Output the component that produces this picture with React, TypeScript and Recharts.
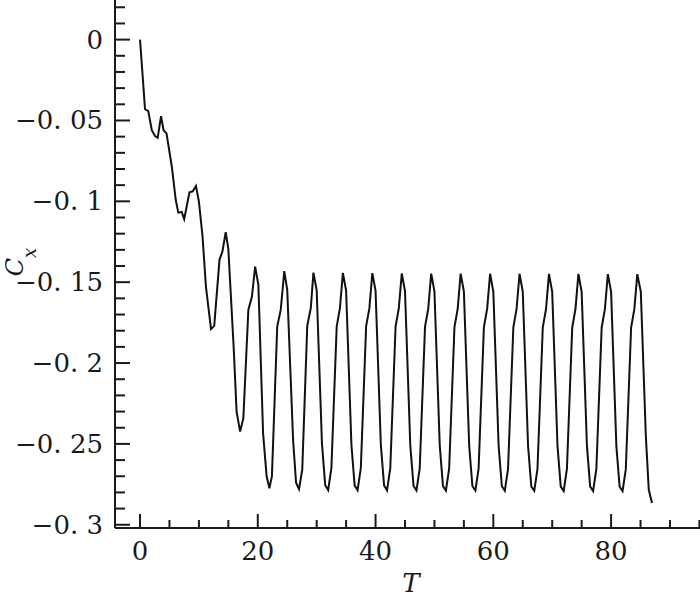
import { Line, LineChart, XAxis, YAxis } from "recharts";

// time T and drag coefficient Cx
const tValues = [
  0, 0.85, 1.4, 2.0, 2.55, 3.0, 3.57, 4.0, 4.5, 5.4, 6.07, 6.5, 7.08, 7.5, 8.4, 8.95, 9.5, 10.0,
  10.6, 11.2, 12.06, 12.6, 13.5, 14.0, 14.55, 15.0, 15.9, 16.4, 17.0, 17.55, 18.4, 19.0,
  19.55, 20.1, 20.9, 21.5, 21.97, 22.4, 23.3, 23.9,
  24.5, 25.0, 26.0, 26.5, 27.0, 27.55, 28.4, 29.0,
  29.45, 30.0, 30.9, 31.45, 31.95, 32.5, 33.4, 33.95,
  34.45, 35.0, 35.9, 36.45, 36.95, 37.5, 38.4, 38.95,
  39.45, 40.0, 40.9, 41.45, 41.95, 42.5, 43.4, 43.95,
  44.45, 45.0, 45.9, 46.45, 46.95, 47.5, 48.4, 48.95,
  49.45, 50.0, 50.9, 51.45, 51.95, 52.5, 53.4, 53.95,
  54.45, 55.0, 55.9, 56.45, 56.95, 57.5, 58.4, 58.95,
  59.45, 60.0, 60.9, 61.45, 61.95, 62.5, 63.4, 63.95,
  64.45, 65.0, 65.9, 66.45, 66.95, 67.5, 68.4, 68.95,
  69.45, 70.0, 70.9, 71.45, 71.95, 72.5, 73.4, 73.95,
  74.45, 75.0, 75.9, 76.45, 76.95, 77.5, 78.4, 78.95,
  79.45, 80.0, 80.9, 81.45, 81.95, 82.5, 83.4, 83.95,
  84.45, 85.05, 85.9, 86.4, 86.95,
];

const cxValues = [
  0, -0.043, -0.0442, -0.056, -0.0596, -0.0607, -0.0473, -0.056, -0.058, -0.0786, -0.0992, -0.107,
  -0.1066, -0.111, -0.0944, -0.0938, -0.0905, -0.1002,
  -0.121, -0.153, -0.179, -0.177, -0.136, -0.131, -0.119, -0.1295, -0.19, -0.23, -0.2424, -0.234,
  -0.167, -0.159,
  -0.1404, -0.1517, -0.2434, -0.27, -0.2774, -0.27, -0.1775, -0.167,
  -0.1431, -0.1548, -0.248, -0.274, -0.278, -0.266, -0.177, -0.166,
  -0.1441, -0.155, -0.25, -0.2755, -0.2785, -0.265, -0.1775, -0.166,
  -0.1443, -0.1552, -0.2505, -0.2758, -0.2786, -0.2648, -0.1772, -0.1662,
  -0.1444, -0.1553, -0.2508, -0.2757, -0.2787, -0.265, -0.1774, -0.166,
  -0.1446, -0.1555, -0.251, -0.276, -0.2788, -0.2652, -0.1776, -0.1663,
  -0.1447, -0.1556, -0.2509, -0.2761, -0.2789, -0.2651, -0.1777, -0.1664,
  -0.1447, -0.1557, -0.2511, -0.2762, -0.2789, -0.2653, -0.1778, -0.1665,
  -0.1448, -0.1558, -0.2512, -0.2762, -0.279, -0.2654, -0.1779, -0.1665,
  -0.1448, -0.1558, -0.2513, -0.2763, -0.279, -0.2654, -0.1779, -0.1666,
  -0.1449, -0.1559, -0.2514, -0.2764, -0.2791, -0.2655, -0.178, -0.1666,
  -0.1449, -0.1559, -0.2514, -0.2764, -0.2791, -0.2655, -0.178, -0.1667,
  -0.145, -0.156, -0.2515, -0.2765, -0.2792, -0.2656, -0.1781, -0.1667,
  -0.145, -0.156, -0.245, -0.2784, -0.2865,
];

const xTicks = [0, 5, 10, 15, 20, 25, 30, 35, 40, 45, 50, 55, 60, 65, 70, 75, 80, 85, 90, 95];
const xMajor = [0, 20, 40, 60, 80];

const yMajor = [0, -0.05, -0.1, -0.15, -0.2, -0.25, -0.3];
const yMajorLabels = ["0", "\u22120. 05", "\u22120. 1", "\u22120. 15", "\u22120. 2", "\u22120. 25", "\u22120. 3"];
const yTicks = [
  0.02, 0.01, 0, -0.01, -0.02, -0.03, -0.04, -0.05, -0.06, -0.07, -0.08, -0.09, -0.1, -0.11, -0.12,
  -0.13, -0.14, -0.15, -0.16, -0.17, -0.18, -0.19, -0.2, -0.21, -0.22, -0.23, -0.24, -0.25, -0.26,
  -0.27, -0.28, -0.29, -0.3,
];

const data = tValues.map((t, i) => ({ t, cx: cxValues[i] }));

const INK = "#1a1a1a";
const serif = { fontFamily: "'DejaVu Serif', 'Liberation Serif', serif" };

function YTick({ x, y, payload }: any) {
  const idx = yMajor.findIndex((m) => Math.abs(m - payload.value) < 1e-6);
  const major = idx >= 0;
  return (
    <g>
      <line x1={x} y1={y} x2={x + (major ? 15 : 10)} y2={y} stroke={INK} strokeWidth={2} />
      {major && (
        <text x={x - 12} y={y + 9} textAnchor="end" fontSize={26} style={serif} fill={INK}>
          {yMajorLabels[idx]}
        </text>
      )}
    </g>
  );
}

function XTick({ x, y, payload }: any) {
  const major = xMajor.includes(payload.value);
  return (
    <g>
      <line x1={x} y1={y} x2={x} y2={y - (major ? 14 : 8)} stroke={INK} strokeWidth={2} />
      {major && (
        <text x={x} y={y + 32} textAnchor="middle" fontSize={26} style={serif} fill={INK}>
          {payload.value}
        </text>
      )}
    </g>
  );
}

export default function App() {
  return (
    <div style={{ position: "absolute", left: 0, top: 0, width: 700, height: 609, background: "#fff" }}>
      <LineChart width={700} height={609} data={data} margin={{ top: 0, right: 0, bottom: 0, left: 0 }}>
        <XAxis
          dataKey="t"
          type="number"
          domain={[-4.25, 95.1]}
          allowDataOverflow
          ticks={xTicks}
          interval={0}
          height={81}
          tickSize={0}
          tickMargin={0}
          tickLine={false}
          axisLine={{ stroke: INK, strokeWidth: 2 }}
          tick={(p: any) => <XTick {...p} />}
        />
        <YAxis
          type="number"
          domain={[-0.302, 0.0245]}
          allowDataOverflow
          ticks={yTicks}
          interval={0}
          width={115}
          tickSize={0}
          tickMargin={0}
          tickLine={false}
          axisLine={{ stroke: INK, strokeWidth: 2 }}
          tick={(p: any) => <YTick {...p} />}
        />
        <Line
          type="linear"
          dataKey="cx"
          stroke="#111"
          strokeWidth={2}
          dot={false}
          isAnimationActive={false}
        />
        <text x={411} y={592} textAnchor="middle" fontSize={26} fontStyle="italic" style={serif} fill={INK}>
          T
        </text>
        <text
          transform="translate(23, 262) rotate(-90)"
          x={0}
          y={0}
          textAnchor="middle"
          fontSize={24}
          fontStyle="italic"
          style={serif}
          fill={INK}
        >
          C
          <tspan fontSize={18} dy={13}>
            x
          </tspan>
        </text>
      </LineChart>
    </div>
  );
}
